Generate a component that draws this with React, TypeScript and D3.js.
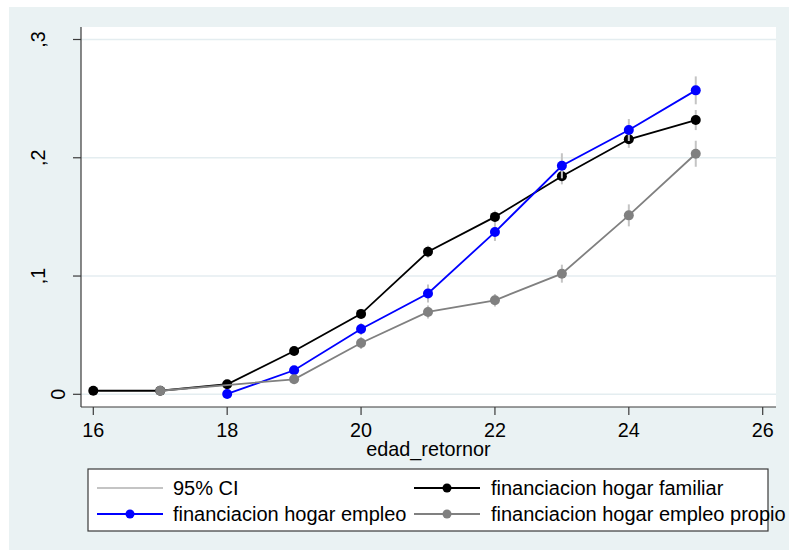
import React from "react";
import * as d3 from "d3";

const ages = [16, 17, 18, 19, 20, 21, 22, 23, 24, 25];

const familiar = [0.003, 0.003, 0.0085, 0.0366, 0.068, 0.1205, 0.15, 0.1843, 0.2156, 0.2319];
const familiarLo = [0.0013, 0.0013, 0.006, 0.0332, 0.0638, 0.1154, 0.1447, 0.1775, 0.2084, 0.2234];
const familiarHi = [0.0047, 0.0047, 0.011, 0.04, 0.0722, 0.1256, 0.1553, 0.1911, 0.2228, 0.2404];

const empleo = [null, null, 0.0003, 0.0203, 0.0552, 0.0852, 0.1372, 0.1932, 0.2235, 0.257];
const empleoLo = [null, null, 0.0, 0.0169, 0.0501, 0.0776, 0.1296, 0.1826, 0.2142, 0.2452];
const empleoHi = [null, null, 0.002, 0.0237, 0.0603, 0.0928, 0.1448, 0.2038, 0.2328, 0.2688];

const propio = [null, 0.003, null, 0.0127, 0.0434, 0.0696, 0.0795, 0.102, 0.1513, 0.2034];
const propioLo = [null, 0.0013, null, 0.0093, 0.0383, 0.0641, 0.0742, 0.0944, 0.142, 0.1924];
const propioHi = [null, 0.0047, null, 0.0161, 0.0485, 0.0751, 0.0848, 0.1096, 0.1606, 0.2144];

const xTicks = [16, 18, 20, 22, 24, 26];
const yTicks = [0, 0.1, 0.2, 0.3];
const yTickLabels = ["0", ",1", ",2", ",3"];
const xTitle = "edad_retornor";
const ciLabel = "95% CI";
const seriesNames = [
  "financiacion hogar familiar",
  "financiacion hogar empleo",
  "financiacion hogar empleo propio",
];

const FONT = "'Liberation Sans', Arial, sans-serif";
const BG = "#eaf2f3";
const GRID = "#e4edf0";
const AXIS = "#3a3a3a";
const CI_COLOR = "#c4c4c4";
const COLORS = ["#000000", "#0000ff", "#808080"];

type Pt = { x: number; v: number; lo: number; hi: number };

function toPoints(vals: (number | null)[], lo: (number | null)[], hi: (number | null)[]): Pt[] {
  const out: Pt[] = [];
  ages.forEach((a, i) => {
    const v = vals[i];
    if (v !== null && v !== undefined) {
      out.push({ x: a, v, lo: lo[i] as number, hi: hi[i] as number });
    }
  });
  return out;
}

export default function App() {
  const W = 789;
  const H = 551;
  const plot = { left: 81, right: 776, top: 27, bottom: 407 };
  const x = d3.scaleLinear().domain([16, 26]).range([93.3, 762.7]);
  const y = d3.scaleLinear().domain([0, 0.3]).range([394.3, 39.5]);

  const series = [
    toPoints(familiar, familiarLo, familiarHi),
    toPoints(empleo, empleoLo, empleoHi),
    toPoints(propio, propioLo, propioHi),
  ];

  const line = d3
    .line<Pt>()
    .x((d) => x(d.x))
    .y((d) => y(d.v));

  const legendRows = [
    { col: 0, row: 0, label: ciLabel, color: CI_COLOR, marker: false },
    { col: 1, row: 0, label: seriesNames[0], color: COLORS[0], marker: true },
    { col: 0, row: 1, label: seriesNames[1], color: COLORS[1], marker: true },
    { col: 1, row: 1, label: seriesNames[2], color: COLORS[2], marker: true },
  ];
  const colKeyX = [97, 414];
  const keyW = 66;
  const colTextX = [173, 491];
  const rowY = [488, 514];

  return (
    <svg
      width={W}
      height={H}
      style={{ position: "absolute", left: 0, top: 0, fontFamily: FONT }}
    >
      <rect x={0} y={0} width={W} height={H} fill="#ffffff" />
      <rect x={9} y={7} width={W - 9} height={543} fill={BG} />
      <rect
        x={plot.left}
        y={plot.top}
        width={plot.right - plot.left}
        height={plot.bottom - plot.top}
        fill="#ffffff"
      />
      {yTicks.map((t) => (
        <line
          key={"g" + t}
          x1={plot.left}
          x2={plot.right}
          y1={y(t)}
          y2={y(t)}
          stroke={GRID}
          strokeWidth={1.5}
        />
      ))}
      <line x1={plot.left} x2={plot.left} y1={plot.top} y2={plot.bottom} stroke={AXIS} strokeWidth={1.2} />
      <line x1={plot.left} x2={plot.right} y1={plot.bottom} y2={plot.bottom} stroke={AXIS} strokeWidth={1.2} />
      {yTicks.map((t, i) => (
        <g key={"yt" + t}>
          <line x1={73} x2={plot.left} y1={y(t)} y2={y(t)} stroke={AXIS} strokeWidth={1.2} />
          <text
            transform={`translate(${yTickLabels[i].startsWith(",") ? 45 : 65},${y(t)}) rotate(-90)`}
            textAnchor="middle"
            fontSize={19.8}
            fill="#000"
          >
            {yTickLabels[i]}
          </text>
        </g>
      ))}
      {xTicks.map((t) => (
        <g key={"xt" + t}>
          <line x1={x(t)} x2={x(t)} y1={plot.bottom} y2={415} stroke={AXIS} strokeWidth={1.2} />
          <text x={x(t)} y={437} textAnchor="middle" fontSize={19.8} fill="#000">
            {t}
          </text>
        </g>
      ))}
      <text x={(plot.left + plot.right) / 2} y={456} textAnchor="middle" fontSize={19.8} fill="#000">
        {xTitle}
      </text>

      {series.map((pts, si) => (
        <g key={"s" + si}>
          {pts.map((d, i) => (
            <line
              key={"ci" + i}
              x1={x(d.x)}
              x2={x(d.x)}
              y1={y(d.lo)}
              y2={y(d.hi)}
              stroke={CI_COLOR}
              strokeWidth={2}
            />
          ))}
          <path d={line(pts) || ""} fill="none" stroke={COLORS[si]} strokeWidth={1.8} />
          {pts.map((d, i) => (
            <circle key={"m" + i} cx={x(d.x)} cy={y(d.v)} r={5} fill={COLORS[si]} />
          ))}
        </g>
      ))}

      <rect x={88} y={469} width={680} height={62} fill="#ffffff" stroke={AXIS} strokeWidth={1.2} />
      {legendRows.map((it, i) => (
        <g key={"lg" + i}>
          <line
            x1={colKeyX[it.col]}
            x2={colKeyX[it.col] + keyW}
            y1={rowY[it.row]}
            y2={rowY[it.row]}
            stroke={it.color}
            strokeWidth={2}
          />
          {it.marker && (
            <circle cx={colKeyX[it.col] + keyW / 2} cy={rowY[it.row]} r={4.5} fill={it.color} />
          )}
          <text x={colTextX[it.col]} y={rowY[it.row] + 6.5} fontSize={20} fill="#000">
            {it.label}
          </text>
        </g>
      ))}
    </svg>
  );
}
